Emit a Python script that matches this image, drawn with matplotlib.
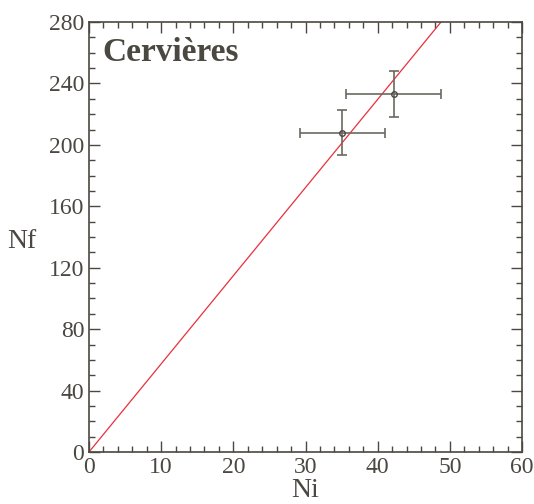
import numpy as np
import matplotlib.pyplot as plt
from matplotlib.ticker import MultipleLocator

# data
ni = [35.1, 42.2]
nf = [208, 233]
ni_err = [5.9, 6.55]
nf_err = [14.5, 15.0]
slope = 5.74
line_x = np.array([0, 60])

ink = '#4a4840'

plt.rcParams['font.family'] = ['Liberation Serif', 'DejaVu Serif']

fig = plt.figure(figsize=(5.34, 5.04), dpi=100)
ax = fig.add_axes([89/534, 52/504, 433/534, 430/504])

ax.plot(line_x, slope*line_x, color='#e8303c', lw=0.9)
ax.errorbar(ni, nf, xerr=ni_err, yerr=nf_err, fmt='o', ms=4, mfc='none',
            mec=ink, ecolor='#6a6860', elinewidth=1.2, capsize=3.5, capthick=1.2)

ax.set_xlim(0, 60)
ax.set_ylim(0, 280)
ax.xaxis.set_major_locator(MultipleLocator(10))
ax.xaxis.set_minor_locator(MultipleLocator(2))
ax.yaxis.set_major_locator(MultipleLocator(40))
ax.yaxis.set_minor_locator(MultipleLocator(10))
ax.tick_params(which='both', direction='in', top=True, right=True, colors=ink,
               labelsize=17, width=1)
ax.tick_params(which='major', length=8)
ax.tick_params(which='minor', length=4)
for s in ax.spines.values():
    s.set_color(ink)
    s.set_linewidth(1.2)

ax.set_xlabel('Ni', fontsize=20, color=ink, labelpad=0)
ax.set_ylabel('Nf', fontsize=20, color=ink, rotation=0, va='center')
ax.yaxis.set_label_coords(-0.155, 0.49)
ax.text(0.03, 0.965, 'Cervières', transform=ax.transAxes, fontsize=24,
        fontweight='bold', color=ink, va='top')

fig.savefig('out.png', dpi=100)
